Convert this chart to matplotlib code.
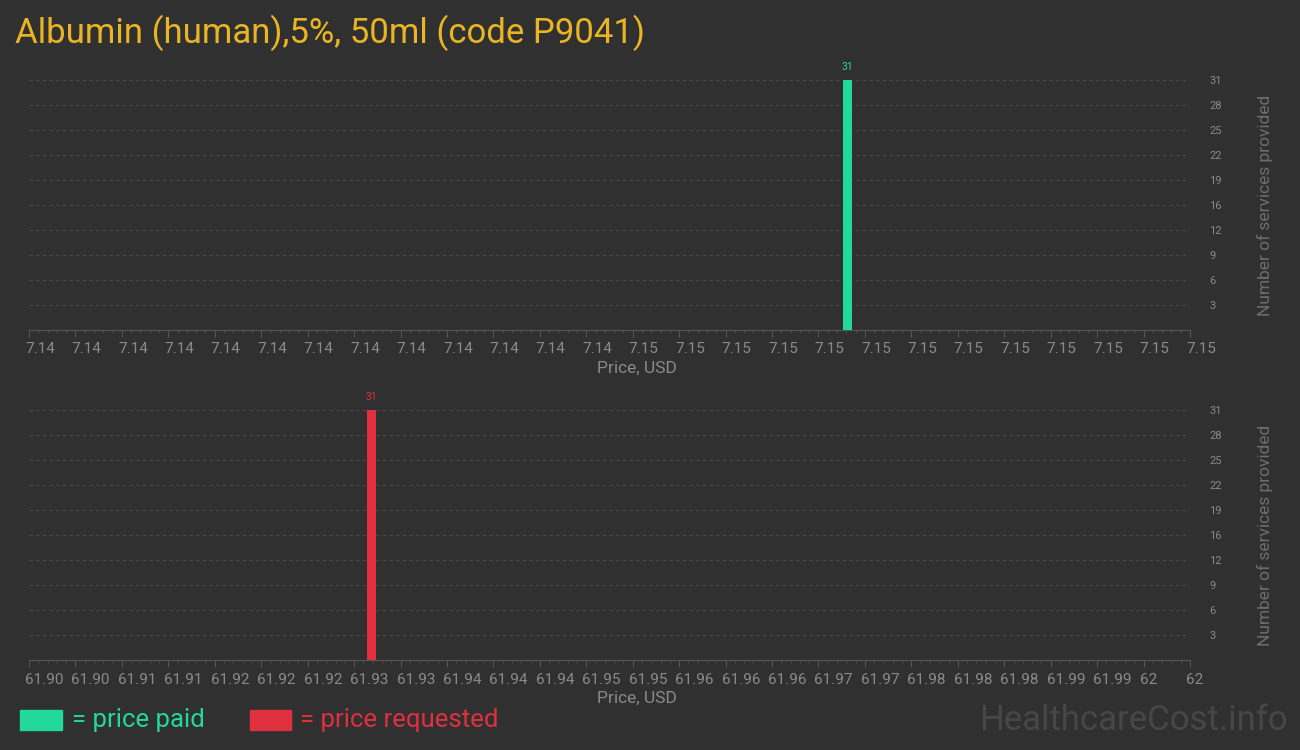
import matplotlib
matplotlib.use("Agg")
import matplotlib.pyplot as plt
import matplotlib.transforms as mtransforms
import numpy as np
from matplotlib import font_manager as fm

# ---- data ----
title = "Albumin (human),5%, 50ml (code P9041)"
paid_price = [7.14705]
paid_count = [31]
req_price = [61.9295]
req_count = [31]
paid_xlim = (7.14, 7.15)
req_xlim = (61.90, 62.00)
paid_xticklabels = ["7.14"] * 13 + ["7.15"] * 13
req_xticklabels = ["61.90", "61.90", "61.91", "61.91", "61.92", "61.92", "61.92",
                   "61.93", "61.93", "61.94", "61.94", "61.94", "61.95", "61.95",
                   "61.96", "61.96", "61.96", "61.97", "61.97", "61.98", "61.98",
                   "61.98", "61.99", "61.99", "62", "62"]
ymax = 31
yticklabels = ["3", "6", "9", "12", "16", "19", "22", "25", "28", "31"]

names = {f.name for f in fm.fontManager.ttflist}
narrow = "Liberation Sans Narrow" if "Liberation Sans Narrow" in names else "Roboto"

BG = "#303030"
GREEN = "#22d89a"
RED = "#e0303f"
GOLD = "#eab523"
GRAY = "#8a8a8a"

fig = plt.figure(figsize=(13, 7.5), dpi=100, facecolor=BG)

def panel(rect, prices, counts, xlim, xlabels, color):
    ax = fig.add_axes(rect, facecolor=BG)
    n = len(xlabels)
    ticks = np.linspace(xlim[0], xlim[1], n)
    step = (xlim[1] - xlim[0]) / (n - 1)
    width = step * 9 / 46.44
    ax.bar(prices, counts, width=width, color=color, zorder=3)
    for p, c in zip(prices, counts):
        ax.text(p, c + ymax * 0.03, str(c), color=color, ha="center", va="bottom",
                fontsize=7.5, family=narrow, clip_on=False)
    ax.set_xlim(xlim)
    ax.set_ylim(0, ymax)
    ax.set_xticks(ticks)
    ax.set_xticks(np.linspace(xlim[0], xlim[1], (n - 1) * 5 + 1), minor=True)
    ax.tick_params(axis="x", which="major", length=5, color="#555555", pad=4)
    ax.tick_params(axis="x", which="minor", length=2.5, color="#555555")
    ax.set_xticklabels(xlabels, family=narrow, fontsize=11, color=GRAY, ha="left")
    off = mtransforms.ScaledTranslation(-4 / 100, 0, fig.dpi_scale_trans)
    for tk in ax.xaxis.get_major_ticks():
        tk.label1.set_transform(tk.label1.get_transform() + off)
    yt = np.linspace(0, ymax, 11)[1:]
    ax.yaxis.tick_right()
    ax.set_yticks(yt)
    ax.set_yticklabels(yticklabels, family=narrow, fontsize=8, color=GRAY)
    ax.tick_params(axis="y", length=0, pad=14)
    ax.grid(axis="y", color="#4a4a4a", linestyle=(0, (3, 3)), linewidth=0.8, zorder=0)
    for s in ["top", "left", "right"]:
        ax.spines[s].set_visible(False)
    ax.spines["bottom"].set_color("#555555")
    ax.set_xlabel("Price, USD", family="Roboto", fontsize=12.5, color=GRAY, va="center")
    ax.xaxis.set_label_coords((637 - 29) / 1161, -(368 - 330) / 250)
    ax.yaxis.set_label_position("right")
    ax.set_ylabel("Number of services provided", family="Roboto", fontsize=12.5,
                  color="#6e6e6e", va="center", rotation=90)
    ax.yaxis.set_label_coords((1265 - 29) / 1161, 0.5)
    return ax

panel([29/1300, 1 - 330/750, (1190-29)/1300, 250/750], paid_price, paid_count,
      paid_xlim, paid_xticklabels, GREEN)
panel([29/1300, 1 - 660/750, (1190-29)/1300, 250/750], req_price, req_count,
      req_xlim, req_xticklabels, RED)

fig.text(15/1300, 1 - 33/750, title, color=GOLD, fontsize=25, family=narrow,
         va="center", ha="left")

# legend
fig.patches.append(plt.Rectangle((20/1300, 1 - 730/750), 42/1300, 20/750,
                                 transform=fig.transFigure, color=GREEN))
fig.text(72/1300, 1 - 720/750, "= price paid", color=GREEN, fontsize=18.5,
         family=narrow, va="center")
fig.patches.append(plt.Rectangle((250/1300, 1 - 730/750), 41/1300, 20/750,
                                 transform=fig.transFigure, color=RED))
fig.text(300/1300, 1 - 720/750, "= price requested", color=RED, fontsize=18.5,
         family=narrow, va="center")
fig.text(1288/1300, 1 - 720/750, "HealthcareCost.info", color="#474747",
         fontsize=25, family=narrow, va="center", ha="right")

fig.savefig("out.png", dpi=100, facecolor=BG)
